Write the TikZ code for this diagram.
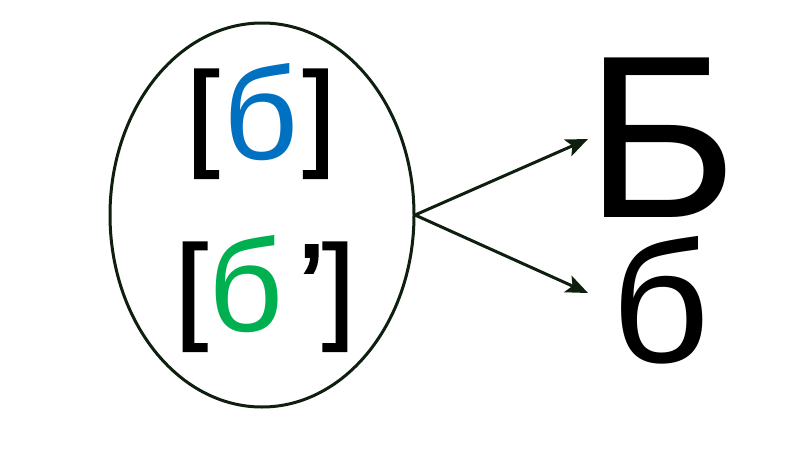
\documentclass[tikz,border=0pt]{standalone}
\usepackage{fontspec}
\setmainfont{Liberation Sans}
\newfontfamily\brkfont[FakeBold=1.5]{Liberation Sans}
\usetikzlibrary{arrows.meta}
\definecolor{lineclr}{HTML}{0F1F0F}
\definecolor{blueclr}{HTML}{0070C0}
\definecolor{greenclr}{HTML}{00B050}
\begin{document}
\begin{tikzpicture}[x=1pt,y=-1pt,
  glyph/.style={inner sep=0pt,anchor=base},
  brk/.style={glyph,font=\brkfont\fontsize{117}{140}\selectfont},
  ltr/.style={glyph,font=\fontsize{131}{140}\selectfont},
  arr/.style={draw=lineclr,line width=3pt,-{Stealth[length=22pt,width=18pt,inset=5pt]}}]
\useasboundingbox (0,0) rectangle (800,450);
\fill[white] (0,0) rectangle (800,450);
\draw[lineclr,line width=3pt] (262,215) ellipse [x radius=152, y radius=192];
\coordinate (src) at (415,215);
% first row [б]
\node[brk] (lb1) at (203,154) {[};
\node[ltr,text=blueclr] (b1) at (261.5,159) {б};
\node[brk] (rb1) at (319,154) {]};
% second row [б’]
\node[brk] (lb2) at (191.5,327) {[};
\node[ltr,text=greenclr] (b2) at (246,331) {б};
\node[glyph,font=\brkfont\fontsize{125}{140}\selectfont] (ap) at (311.5,331) {’};
\node[brk] (rb2) at (338.5,327) {]};
\coordinate (t1) at (588,139);
\coordinate (t2) at (588,293);
\node[glyph,text depth=0pt,font=\fontsize{232}{240}\selectfont] (cap) at (662,217) {Б};
\node[glyph,font=\fontsize{172}{200}\selectfont] (low) at (661,362) {б};
\draw[arr] (src) -- (t1);
\draw[arr] (src) -- (t2);
\end{tikzpicture}
\end{document}
